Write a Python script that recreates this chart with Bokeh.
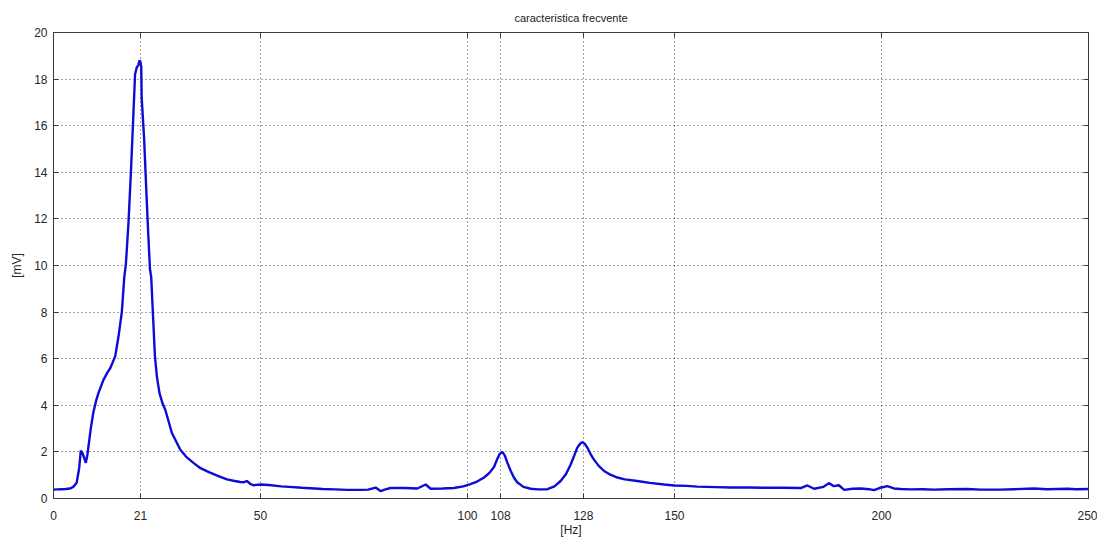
from bokeh.plotting import figure
from bokeh.models import FixedTicker, LinearAxis
from bokeh.embed import file_html
from bokeh.resources import INLINE

# ---- data ----
freq = [0, 1, 2, 3, 4, 4.8, 5.6, 6.2, 6.6, 7.0, 7.4, 7.8, 8.2, 9.0, 9.6, 10.3,
        10.85, 12.06, 13.0, 13.7, 14.9, 15.7, 16.5, 17.1, 17.5, 18.1, 18.7, 19.3,
        19.7, 20.1, 20.5, 20.75, 21.0, 21.2, 21.3, 21.9, 22.4, 22.9, 23.3, 23.6,
        24.0, 24.5, 25.0, 25.6, 26.3, 27.0, 28.6, 30.6, 32.0, 33.8, 35.5, 37.8,
        40.0, 41.9, 43.5, 45.1, 46.0, 46.7, 47.6, 48.3, 50, 52, 55, 57, 60, 63,
        65, 68, 71, 74, 76, 77.8, 79, 80, 81.4, 84.7, 87.9, 89.9, 91.1, 94, 96.7,
        99, 100.7, 102, 104, 105.3, 106.4, 107.2, 107.8, 108.4, 109.0, 109.6,
        110.4, 111.2, 112, 113.5, 115.3, 117, 119.3, 121, 122.5, 123.8, 124.9,
        125.8, 126.5, 127.2, 127.7, 128.3, 129, 129.7, 130.5, 131.7, 133, 134.5,
        136.2, 138, 141, 144, 147.5, 150, 153, 155.5, 160, 163.6, 168, 172.4,
        176, 180.5, 182.1, 183.7, 186, 187.3, 188.5, 189.7, 191, 193, 195, 197,
        198.2, 199.5, 201.4, 203, 204.6, 207, 210, 212.7, 216, 220.7, 224, 228.8,
        232, 236.8, 240, 244.9, 247, 250]
voltage = [0.38, 0.39, 0.4, 0.41, 0.43, 0.5, 0.68, 1.3, 2.05, 1.95, 1.75, 1.53,
           1.89, 3.0, 3.67, 4.2, 4.52, 5.09, 5.4, 5.59, 6.1, 6.95, 8.0, 9.5,
           10.1, 11.8, 14.0, 16.5, 18.2, 18.5, 18.6, 18.8, 18.75, 18.5, 17.2,
           15.4, 13.3, 11.3, 9.85, 9.5, 8.0, 6.1, 5.2, 4.52, 4.1, 3.81, 2.81,
           2.1, 1.8, 1.53, 1.3, 1.11, 0.95, 0.82, 0.76, 0.71, 0.7, 0.75, 0.62,
           0.57, 0.6, 0.58, 0.52, 0.5, 0.46, 0.43, 0.41, 0.39, 0.37, 0.37, 0.38,
           0.47, 0.32, 0.38, 0.45, 0.45, 0.43, 0.6, 0.42, 0.43, 0.45, 0.52, 0.62,
           0.7, 0.9, 1.1, 1.35, 1.7, 1.92, 2.0, 1.85, 1.55, 1.2, 0.9, 0.7, 0.5,
           0.42, 0.39, 0.4, 0.52, 0.75, 1.05, 1.45, 1.85, 2.17, 2.35, 2.42, 2.35,
           2.17, 1.92, 1.68, 1.4, 1.18, 1.02, 0.9, 0.82, 0.75, 0.67, 0.6, 0.56,
           0.54, 0.51, 0.49, 0.47, 0.47, 0.46, 0.46, 0.45, 0.56, 0.42, 0.5, 0.66,
           0.53, 0.57, 0.37, 0.42, 0.43, 0.4, 0.36, 0.45, 0.53, 0.43, 0.41, 0.39,
           0.4, 0.38, 0.4, 0.41, 0.38, 0.38, 0.4, 0.43, 0.4, 0.42, 0.4, 0.41]

x_ticks = [0, 21, 50, 100, 108, 128, 150, 200, 250]
y_ticks = [0, 2, 4, 6, 8, 10, 12, 14, 16, 18, 20]

title_text = "caracteristica frecvente"
x_label = "[Hz]"
y_label = "[mV]"

FONT = "Liberation Sans"
TXT = "#262626"
AX = "#3a3a3a"

p = figure(width=1097, height=539, x_range=(0, 250), y_range=(0, 20),
           output_backend="svg", toolbar_location=None,
           min_border_left=53, min_border_right=9, min_border_top=32,
           min_border_bottom=38)

p.title.text = title_text
p.title.align = "center"
p.title.text_font = FONT
p.title.text_font_size = "11px"
p.title.text_font_style = "normal"
p.title.text_color = "#202020"
p.title.standoff = 18

p.outline_line_color = AX
p.outline_line_width = 1
p.background_fill_color = "white"
p.border_fill_color = "white"

p.line(freq, voltage, line_color="#0c0cd6", line_width=2.4)

xt = FixedTicker(ticks=x_ticks)
yt = FixedTicker(ticks=y_ticks)

p.xaxis.ticker = xt
p.yaxis.ticker = yt
p.xaxis.axis_label = x_label
p.yaxis.axis_label = y_label

for ax in [p.xaxis[0], p.yaxis[0]]:
    ax.major_tick_in = 5
    ax.major_tick_out = 0
    ax.minor_tick_line_color = None
    ax.axis_line_color = AX
    ax.major_tick_line_color = AX
    ax.major_label_text_font = FONT
    ax.major_label_text_font_size = "12px"
    ax.major_label_text_color = TXT
    ax.axis_label_text_font = FONT
    ax.axis_label_text_font_size = "12px"
    ax.axis_label_text_font_style = "normal"
    ax.axis_label_text_color = TXT

p.xaxis.major_label_standoff = 12
p.xaxis.axis_label_standoff = 0
p.yaxis.major_label_standoff = 6
p.yaxis.axis_label_standoff = 7

# mirrored ticks on top and right (MATLAB box style), labels hidden
top = LinearAxis(ticker=xt, major_tick_in=5, major_tick_out=0,
                 minor_tick_line_color=None, major_label_text_font_size="1px",
                 major_label_text_color=None,
                 major_label_standoff=0, axis_line_color=AX,
                 major_tick_line_color=AX)
right = LinearAxis(ticker=yt, major_tick_in=5, major_tick_out=0,
                   minor_tick_line_color=None, major_label_text_font_size="1px",
                   major_label_text_color=None,
                   major_label_standoff=0, axis_line_color=AX,
                   major_tick_line_color=AX)
p.add_layout(top, "above")
p.add_layout(right, "right")

for g in [p.xgrid[0], p.ygrid[0]]:
    g.grid_line_color = "#222222"
    g.grid_line_dash = "1 3"
    g.grid_line_width = 1
    g.grid_line_alpha = 0.85
p.xgrid.ticker = xt
p.ygrid.ticker = yt

open("out.html", "w").write(file_html(p, INLINE))
